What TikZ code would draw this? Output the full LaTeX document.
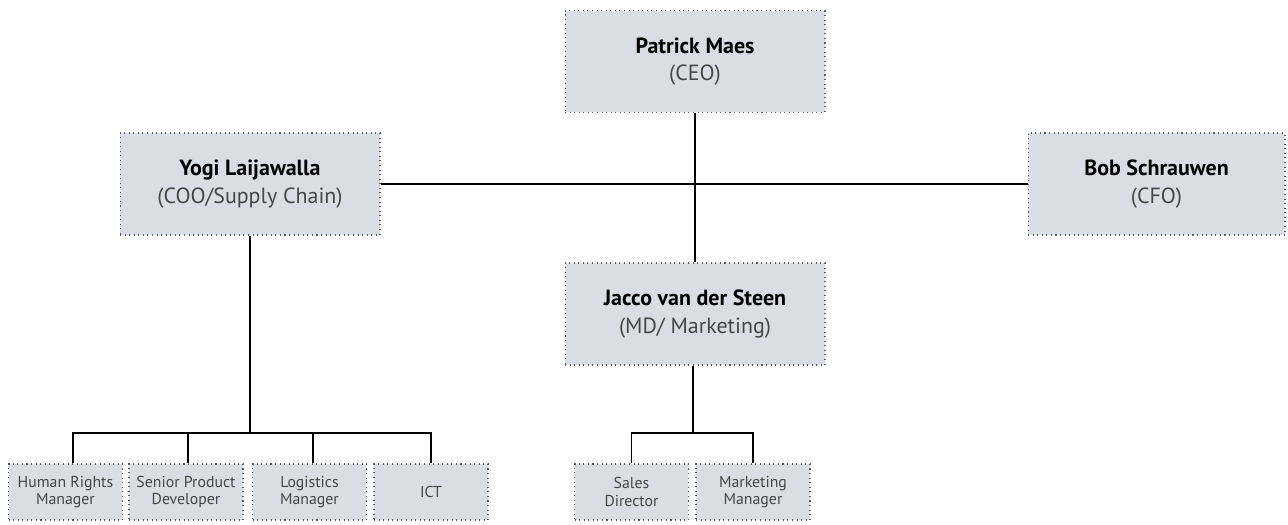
\documentclass[tikz,border=0pt]{standalone}
\usepackage{fontspec}
\setmainfont{PT Sans}
\usetikzlibrary{positioning}
\definecolor{boxfill}{RGB}{218,222,228}
\definecolor{boxline}{RGB}{90,90,90}
\definecolor{rolegray}{RGB}{70,70,70}

\begin{document}
\begin{tikzpicture}[x=0.02cm,y=-0.02cm,
          head/.style={fill=boxfill,draw=boxline,dotted,line width=0.6pt,
            minimum width=5.2cm,minimum height=2.04cm,align=center,
            font=\fontsize{12.5}{15.5}\selectfont,inner sep=2pt},
          staff/.style={fill=boxfill,draw=boxline,dotted,line width=0.6pt,
            minimum width=2.28cm,minimum height=1.12cm,align=center,
            text=rolegray,font=\fontsize{9}{10}\selectfont,inner sep=1pt},
          link/.style={draw=black,line width=0.7pt}]

        \useasboundingbox (0,0) rectangle (1288,524);

        % board
        \node[head] (ceo) at (695,61.5)
          {\textbf{Patrick Maes}\\{\color{rolegray}(CEO)}};
        \node[head] (coo) at (250,184)
          {\textbf{Yogi Laijawalla}\\{\color{rolegray}(COO/Supply Chain)}};
        \node[head,minimum width=5.14cm] (cfo) at (1156.5,184)
          {\textbf{Bob Schrauwen}\\{\color{rolegray}(CFO)}};
        \node[head] (md) at (695,314)
          {\textbf{Jacco van der Steen}\\{\color{rolegray}(MD/ Marketing)}};

        % staff under COO
        \node[staff] (hrm) at (65.5,492) {Human Rights\\Manager};
        \node[staff] (spd) at (186,492) {Senior Product\\Developer};
        \node[staff] (log) at (309.5,492) {Logistics\\Manager};
        \node[staff] (ict) at (431,492) {ICT};

        % staff under MD
        \node[staff] (sal) at (631.5,492) {Sales\\Director};
        \node[staff] (mkt) at (753,492) {Marketing\\Manager};

        \coordinate (cooBus) at (250,433);
        \coordinate (mdBus) at (693,433);

        \draw[link] (coo.east) -- (cfo.west);
        \draw[link] (ceo.south) -- (md.north);
        \draw[link] (coo.south) -- (cooBus);
        \draw[link] (md.south -| mdBus) -- (mdBus);

        \draw[link] ([xshift=0.15cm]hrm.north) |- (cooBus) -| (ict.north);
        \draw[link] ([xshift=0.04cm]spd.north) -- ([xshift=0.04cm]spd.north |- cooBus);
        \draw[link] ([xshift=0.07cm]log.north) -- ([xshift=0.07cm]log.north |- cooBus);
        \draw[link] (sal.north) |- (mdBus) -| (mkt.north);
      \end{tikzpicture}
\end{document}
